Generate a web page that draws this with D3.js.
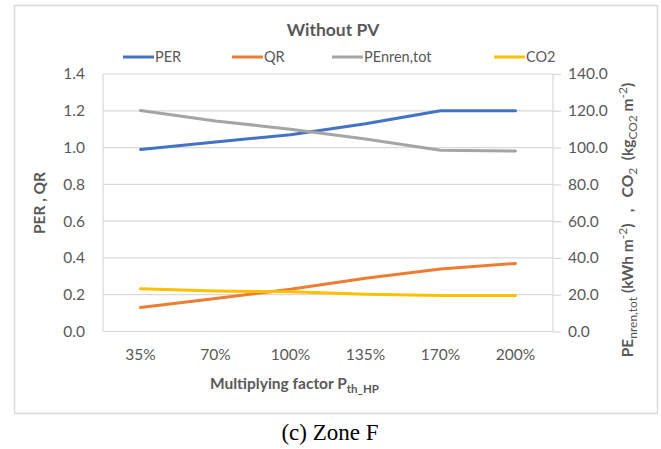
<!DOCTYPE html>
<html>
<head>
<meta charset="utf-8">
<script src="https://cdn.jsdelivr.net/npm/d3@7"></script>
<style>
  html, body { margin: 0; padding: 0; background: #fff; }
  svg { display: block; }
  .sans { font-family: Lato, "Noto Sans", sans-serif; }
  .pre { white-space: pre; }
</style>
</head>
<body>
<svg id="chart" width="661" height="449"></svg>
<script>
// Multiplying factors for the heat-pump thermal power
const categories = ["35%", "70%", "100%", "135%", "170%", "200%"];

// Left axis series (dimensionless ratios)
const perValues = [0.99, 1.03, 1.07, 1.13, 1.20, 1.20];
const qrValues  = [0.13, 0.18, 0.23, 0.29, 0.34, 0.37];

// Right axis series (kWh/m² and kgCO2/m²)
const penrenValues = [120.1, 114.5, 110.0, 104.6, 98.6, 98.1];
const co2Values    = [23.3, 22.0, 21.6, 20.3, 19.6, 19.6];

const leftTicks  = [0, 0.2, 0.4, 0.6, 0.8, 1.0, 1.2, 1.4];
const rightTicks = [0, 20, 40, 60, 80, 100, 120, 140];

const series = [
  { name: "PER",         values: perValues,    axis: "left",  color: "#4472C4" },
  { name: "QR",          values: qrValues,     axis: "left",  color: "#ED7D31" },
  { name: "PEnren,tot",  values: penrenValues, axis: "right", color: "#A5A5A5" },
  { name: "CO2",         values: co2Values,    axis: "right", color: "#FFC000" }
];

const svg = d3.select("#chart");
const textColor = "#595959";
const gridColor = "#d9d9d9";

const plot = { left: 103, right: 553, top: 74, bottom: 331.5 };

const x = d3.scaleBand().domain(categories).range([plot.left, plot.right]);
const yL = d3.scaleLinear().domain([0, 1.4]).range([plot.bottom, plot.top]);
const yR = d3.scaleLinear().domain([0, 140]).range([plot.bottom, plot.top]);

// Outer chart frame
svg.append("rect")
  .attr("x", 14.5).attr("y", 5.5).attr("width", 643).attr("height", 408)
  .attr("fill", "#fff").attr("stroke", gridColor).attr("stroke-width", 1.5);

// Title
svg.append("text").attr("class", "sans")
  .attr("x", 333).attr("y", 36)
  .attr("text-anchor", "middle")
  .attr("font-size", 17.5).attr("font-weight", "bold")
  .attr("fill", textColor)
  .text("Without PV");

// Legend
const legendX = [123, 232, 332, 494];
const legend = svg.append("g");
series.forEach((s, i) => {
  const g = legend.append("g").attr("transform", `translate(${legendX[i]},57)`);
  g.append("line").attr("x1", 0).attr("x2", 31).attr("y1", 0).attr("y2", 0)
    .attr("stroke", s.color).attr("stroke-width", 3);
  g.append("text").attr("class", "sans").attr("x", 32).attr("y", 5)
    .attr("font-size", 14.5).attr("fill", textColor).text(s.name);
});

// Horizontal gridlines
svg.append("g")
  .selectAll("line")
  .data(leftTicks)
  .join("line")
  .attr("x1", plot.left).attr("x2", plot.right)
  .attr("y1", d => yL(d)).attr("y2", d => yL(d))
  .attr("stroke", gridColor).attr("stroke-width", 1.2);

// Plot area side edges
[plot.left, plot.right].forEach(px => {
  svg.append("line")
    .attr("x1", px).attr("x2", px).attr("y1", plot.top).attr("y2", plot.bottom)
    .attr("stroke", gridColor).attr("stroke-width", 1.2);
});

// Left axis
const leftAxis = svg.append("g")
  .attr("transform", `translate(${plot.left},0)`)
  .call(d3.axisLeft(yL).tickValues(leftTicks).tickFormat(d3.format(".1f")).tickSize(0).tickPadding(18));
leftAxis.select(".domain").remove();
leftAxis.selectAll("text").attr("class", "sans").attr("font-size", 15.5).attr("fill", textColor);

// Right axis
const rightAxis = svg.append("g")
  .attr("transform", `translate(${plot.right},0)`)
  .call(d3.axisRight(yR).tickValues(rightTicks).tickFormat(d3.format(".1f")).tickSize(8).tickPadding(7));
rightAxis.select(".domain").remove();
rightAxis.selectAll("line").attr("stroke", gridColor).attr("stroke-width", 1.2);
rightAxis.selectAll("text").attr("class", "sans").attr("font-size", 15.5).attr("fill", textColor);

// Bottom axis labels
const bottomAxis = svg.append("g")
  .attr("transform", `translate(0,${plot.bottom})`)
  .call(d3.axisBottom(x).tickSize(0).tickPadding(17));
bottomAxis.select(".domain").remove();
bottomAxis.selectAll("text").attr("class", "sans").attr("font-size", 15.5).attr("fill", textColor);

// Series lines
const lineFor = s => d3.line()
  .x((d, i) => x(categories[i]) + x.bandwidth() / 2)
  .y(d => (s.axis === "left" ? yL(d) : yR(d)));

series.forEach(s => {
  svg.append("path")
    .datum(s.values)
    .attr("d", lineFor(s))
    .attr("fill", "none")
    .attr("stroke", s.color)
    .attr("stroke-width", 3)
    .attr("stroke-linejoin", "round")
    .attr("stroke-linecap", "round");
});

// X axis title
const xTitle = svg.append("text").attr("class", "sans")
  .attr("x", 210).attr("y", 389)
  .attr("font-size", 15.5).attr("font-weight", "bold").attr("fill", textColor);
xTitle.append("tspan").text("Multiplying factor P");
xTitle.append("tspan").attr("font-size", 11.5).attr("dy", 4).text("th_HP");

// Left axis title
svg.append("text").attr("class", "sans")
  .attr("transform", "translate(45,203) rotate(-90)")
  .attr("text-anchor", "middle")
  .attr("font-size", 15.5).attr("font-weight", "bold").attr("fill", textColor)
  .text("PER , QR");

// Right axis title
const rTitle = svg.append("text").attr("class", "sans pre")
  .attr("transform", "translate(633,220) rotate(-90)")
  .attr("text-anchor", "middle")
  .attr("font-size", 15.5).attr("font-weight", "bold").attr("fill", textColor);
const sub = 12;
rTitle.append("tspan").text("PE");
rTitle.append("tspan").attr("font-size", sub).attr("font-weight", "normal").attr("dy", 4).text("nren,tot");
rTitle.append("tspan").attr("dy", -4).text(" (kWh m");
rTitle.append("tspan").attr("font-size", sub).attr("font-weight", "normal").attr("dy", -6).text("-2");
rTitle.append("tspan").attr("dy", 6).text(")   ,   CO");
rTitle.append("tspan").attr("font-size", sub).attr("font-weight", "normal").attr("dy", 4).text("2");
rTitle.append("tspan").attr("dy", -4).text("  (kg");
rTitle.append("tspan").attr("font-size", sub).attr("font-weight", "normal").attr("dy", 4).text("CO2");
rTitle.append("tspan").attr("dy", -4).text(" m");
rTitle.append("tspan").attr("font-size", sub).attr("font-weight", "normal").attr("dy", -6).text("-2");
rTitle.append("tspan").attr("dy", 6).text(")");

// Caption
svg.append("text")
  .attr("x", 330).attr("y", 440)
  .attr("text-anchor", "middle")
  .style("font-family", "'Liberation Serif', 'DejaVu Serif', serif")
  .attr("font-size", 23).attr("fill", "#000")
  .text("(c) Zone F");
</script>
</body>
</html>
